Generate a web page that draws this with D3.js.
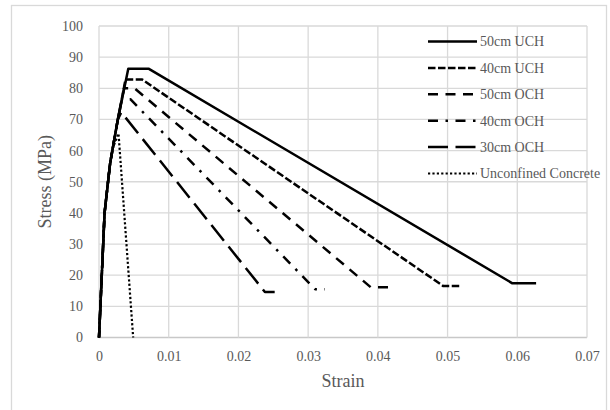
<!DOCTYPE html>
<html>
<head>
<meta charset="utf-8">
<script src="https://cdnjs.cloudflare.com/ajax/libs/d3/7.8.5/d3.min.js"></script>
<style>
  html, body { margin: 0; padding: 0; background: #ffffff; }
  svg { display: block; }
  svg text { font-family: "Liberation Serif", "DejaVu Serif", serif; }
</style>
</head>
<body>
<div id="chart"></div>
<script>
// ---- data ----
const seriesNames = ["50cm UCH", "40cm UCH", "50cm OCH", "40cm OCH", "30cm OCH", "Unconfined Concrete"];
const uch50 = [[0,0],[0.0008,40],[0.0016,56],[0.0027,70],[0.0042,86.3],[0.0071,86.3],[0.0593,17.4],[0.0627,17.4]];
const uch40 = [[0,0],[0.0008,40],[0.0016,56],[0.0027,70],[0.0038,82.8],[0.0062,82.8],[0.0494,16.5],[0.0519,16.5]];
const och50 = [[0,0],[0.0008,40],[0.0016,56],[0.0027,70],[0.0036,80],[0.0051,80],[0.0390,16.1],[0.0416,16.1]];
const och40 = [[0,0],[0.0008,40],[0.0016,56],[0.0027,70],[0.0033,76.5],[0.0045,76.5],[0.0310,15.5],[0.0324,15.5]];
const och30 = [[0,0],[0.0008,40],[0.0016,56],[0.0027,70],[0.0032,72.3],[0.0238,14.6],[0.0252,14.6]];
const unconfined = [[0,0],[0.0008,40],[0.0014,53],[0.0020,61],[0.0028,65.5],[0.0049,0]];
const xTicks = [0, 0.01, 0.02, 0.03, 0.04, 0.05, 0.06, 0.07];
const xTickLabels = ["0", "0.01", "0.02", "0.03", "0.04", "0.05", "0.06", "0.07"];
const yTicks = [0, 10, 20, 30, 40, 50, 60, 70, 80, 90, 100];
const xTitle = "Strain";
const yTitle = "Stress (MPa)";

const seriesData = [uch50, uch40, och50, och40, och30, unconfined];
const styles = [
  { w: 2.5, dash: null, period: 0 },
  { w: 2.5, dash: "7.5 2.5", period: 10 },
  { w: 2.5, dash: "10 7.5", period: 17.5 },
  { w: 2.5, dash: "10 7.5 2.5 7.5", period: 27.5 },
  { w: 2.5, dash: "20 7.5", period: 27.5 },
  { w: 2.2, dash: "2.2 2.2", period: 4.4 }
];

// ---- layout ----
const W = 610, H = 410;
const plot = { left: 99, right: 587, top: 26, bottom: 337.5 };
const textColor = "#595959";
const font = "Liberation Serif, DejaVu Serif, serif";

const svg = d3.select("#chart").append("svg").attr("width", W).attr("height", H)
  .attr("font-family", font);

// outer chart frame
svg.append("rect")
  .attr("x", 11.5).attr("y", 5.5)
  .attr("width", 595).attr("height", 420)
  .attr("fill", "#ffffff")
  .attr("stroke", "#d9d9d9").attr("stroke-width", 1.3);

const x = d3.scaleLinear().domain([0, 0.07]).range([plot.left, plot.right]);
const y = d3.scaleLinear().domain([0, 100]).range([plot.bottom, plot.top]);

// gridlines
svg.append("g").selectAll("line").data(yTicks).join("line")
  .attr("x1", plot.left).attr("x2", plot.right)
  .attr("y1", d => y(d)).attr("y2", d => y(d))
  .attr("stroke", d => d === 0 ? "#c8c8c8" : "#d9d9d9").attr("stroke-width", 1.3);
svg.append("g").selectAll("line").data(xTicks).join("line")
  .attr("x1", d => x(d)).attr("x2", d => x(d))
  .attr("y1", plot.top).attr("y2", plot.bottom)
  .attr("stroke", "#d9d9d9").attr("stroke-width", 1.3);

// axes (labels via d3 axes)
const xAxis = d3.axisBottom(x).tickValues(xTicks).tickFormat((d, i) => xTickLabels[i]).tickSize(0).tickPadding(14);
const yAxis = d3.axisLeft(y).tickValues(yTicks).tickFormat(d3.format("d")).tickSize(0).tickPadding(16);

const gx = svg.append("g").attr("transform", `translate(0,${plot.bottom})`).call(xAxis);
const gy = svg.append("g").attr("transform", `translate(${plot.left},0)`).call(yAxis);
[gx, gy].forEach(g => {
  g.attr("font-family", font).attr("font-size", 14);
  g.select(".domain").remove();
  g.selectAll("text").attr("fill", textColor);
});

// axis titles
svg.append("text")
  .attr("x", (plot.left + plot.right) / 2).attr("y", 387)
  .attr("text-anchor", "middle")
  .attr("fill", textColor).attr("font-size", 18)
  .text(xTitle);
svg.append("text")
  .attr("transform", `translate(51,${(plot.top + plot.bottom) / 2}) rotate(-90)`)
  .attr("text-anchor", "middle")
  .attr("fill", textColor).attr("font-size", 18)
  .text(yTitle);

// lines
const line = d3.line().x(d => x(d[0])).y(d => y(d[1]));
const order = [5, 4, 3, 2, 1, 0];
const paths = svg.append("g").selectAll("path").data(order).join("path")
  .attr("d", i => line(seriesData[i]))
  .attr("fill", "none")
  .attr("stroke", "#000")
  .attr("stroke-width", i => styles[i].w)
  .attr("stroke-dasharray", i => styles[i].dash)
  .attr("stroke-linejoin", "round");

// make the short closing plateau of the 30cm OCH curve fall on a dash
paths.filter(i => i === 4).each(function(i) {
  const L = this.getTotalLength();
  const p = styles[i].period;
  const start = L - 13;
  const off = ((p - (start % p)) % p);
  d3.select(this).attr("stroke-dashoffset", off);
});

// legend
const lg = svg.append("g");
seriesNames.forEach((name, i) => {
  const yy = 41.5 + i * 26.4;
  lg.append("line")
    .attr("x1", 428).attr("x2", 477).attr("y1", yy).attr("y2", yy)
    .attr("stroke", "#000").attr("stroke-width", styles[i].w)
    .attr("stroke-dasharray", styles[i].dash);
  lg.append("text")
    .attr("x", 480).attr("y", yy).attr("dy", "0.35em")
    .attr("fill", textColor).attr("font-size", 14)
    .text(name);
});
</script>
</body>
</html>
